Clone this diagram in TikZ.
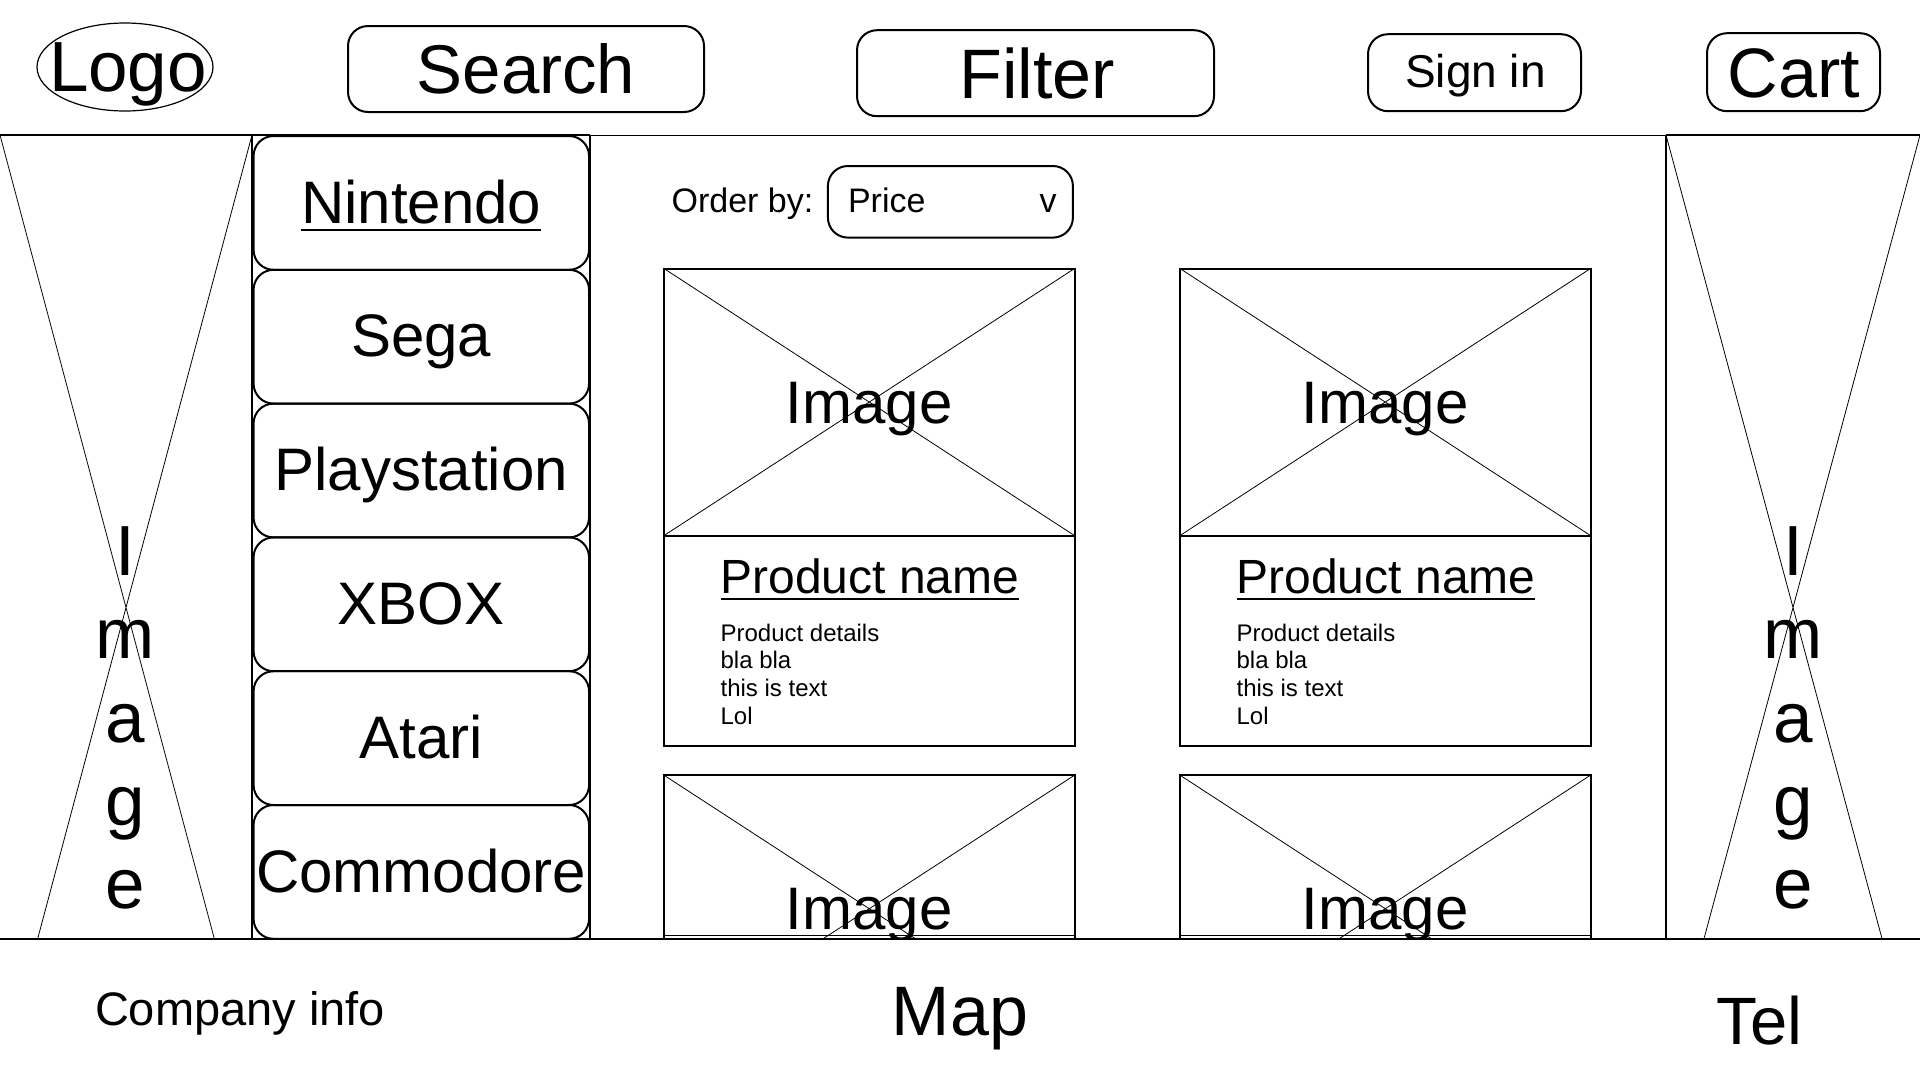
\documentclass[tikz,border=0pt]{standalone}
\usepackage{fontspec}
\setmainfont{Liberation Sans}
\usetikzlibrary{shapes.geometric}
\begin{document}
\begin{tikzpicture}[x=1pt,y=-1pt,
  every node/.style={inner sep=0pt, outer sep=0pt},
  fnt/.style={font=\fontsize{#1pt}{#1pt}\selectfont},
  hbox/.style={draw, line width=2pt, rounded corners=20pt, rectangle},
  catbox/.style={draw, line width=2pt, rounded corners=20pt, minimum width=335.5pt, minimum height=133.8pt},
  imgbox/.style={draw, line width=2pt, minimum width=410.5pt, minimum height=267pt},
  txtbox/.style={draw, line width=2pt, minimum width=410.5pt, minimum height=210pt},
  sidebox/.style={minimum height=945pt},
  cross/.style={line width=0.8pt},
  uline/.style={line width=2pt},
  rule/.style={line width=2pt}
]
\useasboundingbox (0,0) rectangle (1920,1080);
\fill[white] (0,0) rectangle (1920,1080);

% ---------- header ----------
\node[draw, ellipse, line width=1.2pt, minimum width=176pt, minimum height=88pt] (logobox) at (125,67) {};
\node[fnt=71, anchor=base] (tLogo) at (128,91.3) {Logo};

\node[hbox, minimum width=356pt, minimum height=86pt] (searchbox) at (526,69) {};
\node[fnt=69, anchor=base] (tSearch) at (526,93.7) {Search};

\node[hbox, minimum width=357pt, minimum height=86pt] (filterbox) at (1035.5,73.2) {};
\node[fnt=70, anchor=base] (tFilter) at (1037,98) {Filter};

\node[hbox, minimum width=213pt, minimum height=77pt] (signbox) at (1474.5,72.7) {};
\node[fnt=46, anchor=base] (tSign) at (1475.5,87.8) {Sign in};

\node[hbox, minimum width=173pt, minimum height=78pt] (cartbox) at (1793.5,72.2) {};
\node[fnt=70, anchor=base] (tCart) at (1794,97.5) {Cart};

\draw[line width=1.5pt] (0,135.5) -- (1920,135.5);

% ---------- left image ----------
\node[sidebox, minimum width=252pt] (sideL) at (126,607.5) {};
\draw[line width=2.5pt] (sideL.north west) -- (sideL.north east);
\draw[cross] (sideL.north west) -- (sideL.south east) (sideL.north east) -- (sideL.south west);
\foreach \ch [count=\k] in {I,m,a,g,e} {
  \node[fnt=71, anchor=base] (lL\k) at (125,{575.5+83.3*(\k-1)}) {\ch};
}

% ---------- categories ----------
\draw[rule] (252,135) -- (252,938) (590,135) -- (590,938);
\draw[rule] (252,135) -- (590,135);
\foreach \t [count=\k] in {Nintendo,Sega,Playstation,XBOX,Atari,Commodore} {
  \node[catbox] (cb\k) at (421.3,{136+133.8*(\k-1)+66.9}) {};
  \node[fnt=60, anchor=base] (ct\k) at (421.3,{136+133.8*(\k-1)+87}) {\t};
}
\draw[uline] ([yshift=-7pt]ct1.base west) -- ([yshift=-7pt]ct1.base east);

% ---------- order by ----------
\node[fnt=34, anchor=base west] (tOrder) at (671.6,212.8) {Order by:};
\node[hbox, minimum width=245pt, minimum height=71.6pt] (dropbox) at (950.4,201.8) {};
\node[fnt=34, anchor=base west] (tPrice) at (848,212.8) {Price};
\node[fnt=34, anchor=base] (tV) at (1048,212.8) {v};

% ---------- product cards ----------
\foreach \L/\n in {664/a,1180/b} {
  \node[imgbox] (imA\n) at ({\L+205.25},402.05) {};
  \draw[cross] (imA\n.north west) -- (imA\n.south east) (imA\n.north east) -- (imA\n.south west);
  \node[fnt=60, anchor=base] (imAt\n) at ({\L+205.25},423) {Image};
  \node[txtbox] (tb\n) at ({\L+205.25},640.55) {};
  \node[fnt=48, anchor=base west] (pn\n) at ({\L+56.6},593.3) {Product name};
  \draw[uline] ([yshift=-6pt]pn\n.base west) -- ([yshift=-6pt]pn\n.base east);
  \node[fnt=24, anchor=base west] (d1\n) at ({\L+56.6},641) {Product details};
  \node[fnt=24, anchor=base west] (d2\n) at ({\L+56.6},668.8) {bla bla};
  \node[fnt=24, anchor=base west] (d3\n) at ({\L+56.6},696.6) {this is text};
  \node[fnt=24, anchor=base west] (d4\n) at ({\L+56.6},724.4) {Lol};
  \node[imgbox] (imB\n) at ({\L+205.25},908.7) {};
  \draw[cross] (imB\n.north west) -- (imB\n.south east) (imB\n.north east) -- (imB\n.south west);
  \node[fnt=60, anchor=base] (imBt\n) at ({\L+205.25},929.6) {Image};
  \draw[line width=1.5pt] ({\L},935.5) -- ({\L+410.5},935.5);
}

% ---------- right image ----------
\node[sidebox, minimum width=254pt] (sideR) at (1793,607.5) {};
\draw[line width=2.5pt] (sideR.north west) -- (sideR.north east);
\draw[rule] (sideR.north west) -- (1666,938);
\draw[cross] (sideR.north west) -- (sideR.south east) (sideR.north east) -- (sideR.south west);
\foreach \ch [count=\k] in {I,m,a,g,e} {
  \node[fnt=71, anchor=base] (lR\k) at (1793,{575.5+83.3*(\k-1)}) {\ch};
}

% ---------- footer ----------
\fill[white] (0,938.5) rectangle (1920,1085);
\draw[rule] (0,938.5) -- (1920,938.5);
\node[fnt=47, anchor=base] (tCompany) at (240,1025.6) {Company info};
\node[fnt=70, anchor=base] (tMap) at (960,1035) {Map};
\node[fnt=67, anchor=base] (tTel) at (1759.5,1044.5) {Tel};
\end{tikzpicture}
\end{document}
